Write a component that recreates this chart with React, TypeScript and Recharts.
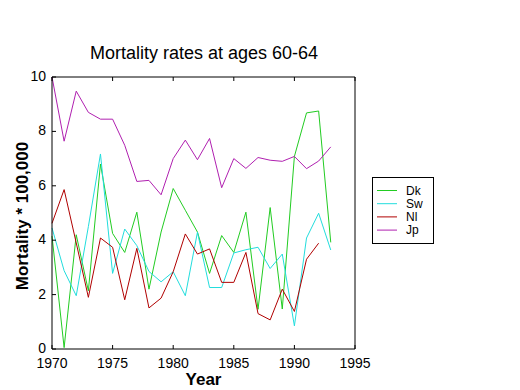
import React from 'react';
import { LineChart, Line, XAxis, YAxis } from 'recharts';

const years = [1970, 1971, 1972, 1973, 1974, 1975, 1976, 1977, 1978, 1979, 1980, 1981, 1982, 1983, 1984, 1985, 1986, 1987, 1988, 1989, 1990, 1991, 1992, 1993];
const dk = [4.15, 0.05, 4.2, 2.14, 6.8, 4.25, 3.55, 5.03, 2.2, 4.3, 5.9, 5.1, 4.3, 2.78, 4.17, 3.55, 5.03, 1.46, 5.2, 1.47, 7.08, 8.68, 8.75, 3.92];
const sw = [4.45, 2.88, 1.96, 4.5, 7.17, 2.78, 4.41, 3.8, 2.85, 2.47, 2.84, 1.96, 4.29, 2.26, 2.26, 3.53, 3.65, 3.74, 2.96, 3.49, 0.85, 4.08, 4.99, 3.64];
const nl = [4.62, 5.86, 3.9, 1.9, 4.08, 3.74, 1.81, 3.7, 1.51, 1.87, 2.84, 4.23, 3.49, 3.68, 2.45, 2.45, 3.55, 1.3, 1.07, 2.2, 1.38, 3.3, 3.89, null];
const jp = [10, 7.64, 9.48, 8.7, 8.45, 8.45, 7.49, 6.16, 6.2, 5.67, 7.0, 7.68, 6.96, 7.74, 5.93, 7.0, 6.64, 7.04, 6.94, 6.9, 7.08, 6.63, 6.91, 7.43];

const xTicks = [1970, 1975, 1980, 1985, 1990, 1995];
const yTicks = [0, 2, 4, 6, 8, 10];

const series = [
    { key: 'Dk', values: dk, color: '#22cc22' },
    { key: 'Sw', values: sw, color: '#22dddd' },
    { key: 'Nl', values: nl, color: '#b00000' },
    { key: 'Jp', values: jp, color: '#b020b0' },
];

const data = years.map((year, i) => {
    const row: any = { year };
    series.forEach(s => { row[s.key] = s.values[i]; });
    return row;
});

const font = '"Liberation Sans", Arial, sans-serif';
const TL = 4; // inward tick length

const BottomTick = ({ x, y, payload }: any) => (
    <g>
        <line x1={x} y1={y} x2={x} y2={y - TL} stroke="#000" />
        <text x={x} y={y + 18.5} textAnchor="middle" fontSize={14} fontFamily={font} fill="#000">{payload.value}</text>
    </g>
);
const TopTick = ({ x, y }: any) => <line x1={x} y1={y} x2={x} y2={y + TL} stroke="#000" />;
const LeftTick = ({ x, y, payload }: any) => (
    <g>
        <line x1={x} y1={y} x2={x + TL} y2={y} stroke="#000" />
        <text x={x - 6} y={y - 1} dy="0.36em" textAnchor="end" fontSize={14} fontFamily={font} fill="#000">{payload.value}</text>
    </g>
);
const RightTick = ({ x, y }: any) => <line x1={x} y1={y} x2={x - TL} y2={y} stroke="#000" />;

export default function App() {
    return (
        <div style={{ position: 'absolute', left: 0, top: 0, width: 520, height: 390, background: '#fff', fontFamily: font }}>
            <div style={{ position: 'absolute', left: 0, width: 408, top: 42, textAlign: 'center', fontSize: 18, lineHeight: '22px' }}>
                Mortality rates at ages 60-64
            </div>
            <div style={{ position: 'absolute', left: 52, width: 303, top: 371, textAlign: 'center', fontSize: 17, fontWeight: 'bold', lineHeight: '18px' }}>
                Year
            </div>
            <div style={{ position: 'absolute', left: 23, top: 216, width: 0, height: 0 }}>
                <div style={{ position: 'absolute', transform: 'translate(-50%, -50%) rotate(-90deg)', whiteSpace: 'nowrap', fontSize: 17, fontWeight: 'bold', lineHeight: '20px' }}>
                    Mortality * 100,000
                </div>
            </div>
            <LineChart width={520} height={390} data={data} margin={{ top: 67, right: 145, bottom: 11, left: 12 }}>
                <XAxis xAxisId="b" dataKey="year" type="number" domain={[1970, 1995]} ticks={xTicks}
                    height={30} tickSize={0} tickMargin={0} tickLine={false} axisLine={{ stroke: '#000' }} tick={<BottomTick />} interval={0} />
                <XAxis xAxisId="t" orientation="top" dataKey="year" type="number" domain={[1970, 1995]} ticks={xTicks}
                    height={10} tickSize={0} tickMargin={0} tickLine={false} axisLine={{ stroke: '#000' }} tick={<TopTick />} interval={0} />
                <YAxis yAxisId="l" type="number" domain={[0, 10]} ticks={yTicks} width={40}
                    tickSize={0} tickMargin={0} tickLine={false} axisLine={{ stroke: '#000' }} tick={<LeftTick />} interval={0} />
                <YAxis yAxisId="r" orientation="right" type="number" domain={[0, 10]} ticks={yTicks} width={20}
                    tickSize={0} tickMargin={0} tickLine={false} axisLine={{ stroke: '#000' }} tick={<RightTick />} interval={0} />
                {series.map(s => (
                    <Line key={s.key} xAxisId="b" yAxisId="l" dataKey={s.key} stroke={s.color} strokeWidth={1}
                        dot={false} activeDot={false} type="linear" isAnimationActive={false} />
                ))}
            </LineChart>
            <svg style={{ position: 'absolute', left: 372, top: 177 }} width={62} height={67}>
                <rect x={0.5} y={0.5} width={61} height={66} fill="#fff" stroke="#000" />
                {series.map((s, i) => (
                    <g key={s.key}>
                        <line x1={5} x2={25} y1={13.5 + i * 13.2} y2={13.5 + i * 13.2} stroke={s.color} />
                        <text x={34} y={13.5 + i * 13.2} dy="0.35em" fontSize={12} fontFamily={font} fill="#000">{s.key}</text>
                    </g>
                ))}
            </svg>
        </div>
    );
}
